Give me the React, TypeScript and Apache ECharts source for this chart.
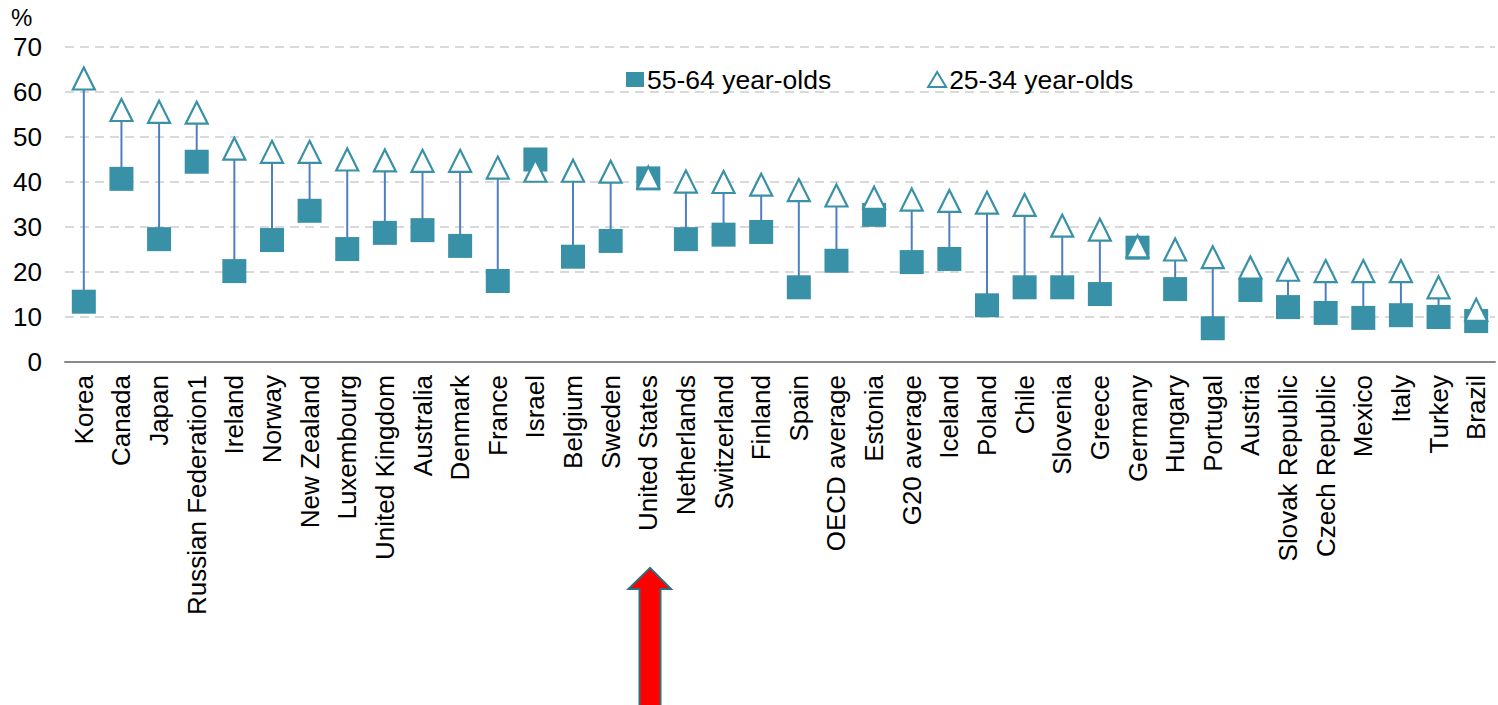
import React, { useEffect, useRef } from "react";
import * as echarts from "echarts";

const countries = [
  "Korea", "Canada", "Japan", "Russian Federation1", "Ireland", "Norway", "New Zealand",
  "Luxembourg", "United Kingdom", "Australia", "Denmark", "France", "Israel", "Belgium",
  "Sweden", "United States", "Netherlands", "Switzerland", "Finland", "Spain", "OECD average",
  "Estonia", "G20 average", "Iceland", "Poland", "Chile", "Slovenia", "Greece", "Germany",
  "Hungary", "Portugal", "Austria", "Slovak Republic", "Czech Republic", "Mexico", "Italy",
  "Turkey", "Brazil",
];

const age25to34 = [
  63.0, 56.0, 55.6, 55.4, 47.4, 46.7, 46.7, 45.0, 44.8, 44.7, 44.7, 43.2, 42.5, 42.5, 42.3,
  41.0, 40.1, 40.0, 39.4, 38.2, 37.0, 36.5, 36.1, 35.8, 35.4, 34.9, 30.3, 29.4, 25.7, 25.0,
  23.3, 21.0, 20.5, 20.2, 20.2, 20.2, 16.6, 11.6,
];

const age55to64 = [
  13.4, 40.7, 27.3, 44.5, 20.2, 27.1, 33.6, 25.1, 28.7, 29.3, 25.8, 18.0, 45.0, 23.4, 26.9,
  40.8, 27.3, 28.3, 28.9, 16.6, 22.5, 32.7, 22.2, 22.9, 12.6, 16.6, 16.6, 15.1, 25.4, 16.2,
  7.5, 16.0, 12.2, 10.9, 9.8, 10.4, 10.0, 9.1,
];

const seriesNames = ["55-64 year-olds", "25-34 year-olds"];
const yTicks = { min: 0, max: 70, interval: 10 };

const TEAL = "#3891A6";
const FONT = "Liberation Sans, Arial, sans-serif";

export default function App() {
  const ref = useRef<HTMLDivElement>(null);

  useEffect(() => {
    if (!ref.current) return;
    const chart = echarts.init(ref.current, null, { renderer: "svg" });
    const rangeData = countries.map((_, i) => [i, age55to64[i], age25to34[i]]);
    chart.setOption({
      animation: false,
      backgroundColor: "#ffffff",
      textStyle: { fontFamily: FONT },
      grid: { left: 65, right: 3, top: 47, bottom: 343, containLabel: false },
      legend: {
        left: 621,
        top: 61,
        itemGap: 96,
        itemWidth: 18,
        itemHeight: 15,
        textStyle: { fontSize: 26.5, color: "#000", fontFamily: FONT, padding: [0, 0, 0, -2] },
        data: [
          { name: seriesNames[0], icon: "rect" },
          { name: seriesNames[1], icon: "triangle" },
        ],
      },
      xAxis: {
        type: "category",
        data: countries,
        boundaryGap: true,
        axisLine: { show: true, lineStyle: { color: "#898989", width: 2 } },
        axisTick: { show: false },
        axisLabel: {
          interval: 0,
          rotate: 90,
          margin: 13,
          fontSize: 26,
          color: "#000",
          fontFamily: FONT,
        },
        splitLine: { show: false },
      },
      yAxis: {
        type: "value",
        min: yTicks.min,
        max: yTicks.max,
        interval: yTicks.interval,
        axisLine: { show: false },
        axisTick: { show: false },
        axisLabel: { fontSize: 26, color: "#000", margin: 23, fontFamily: FONT },
        splitLine: {
          show: true,
          lineStyle: { color: "#D9D9D9", width: 2, type: [9, 6] },
        },
      },
      series: [
        {
          type: "custom",
          name: "range",
          z: 1,
          data: rangeData,
          encode: { x: 0, y: [1, 2] },
          renderItem: (params: any, api: any) => {
            const x = api.value(0);
            const lo = api.coord([x, api.value(1)]);
            const hi = api.coord([x, api.value(2)]);
            return {
              type: "line",
              shape: { x1: lo[0], y1: lo[1], x2: hi[0], y2: hi[1] },
              style: { stroke: "#4F7FC0", lineWidth: 2 },
            };
          },
        },
        {
          type: "scatter",
          name: seriesNames[0],
          z: 2,
          symbol: "rect",
          symbolSize: 24,
          itemStyle: { color: TEAL, opacity: 1 },
          data: age55to64,
        },
        {
          type: "scatter",
          name: seriesNames[1],
          z: 3,
          symbol: "triangle",
          symbolSize: [22, 22],
          itemStyle: { color: "#ffffff", borderColor: TEAL, borderWidth: 2.2, opacity: 1 },
          data: age25to34,
        },
      ],
      graphic: [
        {
          type: "text",
          left: 11,
          top: 5,
          style: { text: "%", fontSize: 24, fill: "#000", fontFamily: FONT },
        },
        {
          type: "polygon",
          z: 10,
          shape: {
            points: [
              [650, 568],
              [628.5, 589],
              [639.5, 589],
              [639.5, 707],
              [660.5, 707],
              [660.5, 589],
              [671, 589],
            ],
          },
          style: { fill: "#FF0000", stroke: "#2F6E7C", lineWidth: 2 },
        },
      ],
    });
    return () => chart.dispose();
  }, []);

  return (
    <div
      ref={ref}
      style={{ position: "fixed", left: 0, top: 0, width: 1498, height: 705, background: "#fff" }}
    />
  );
}
